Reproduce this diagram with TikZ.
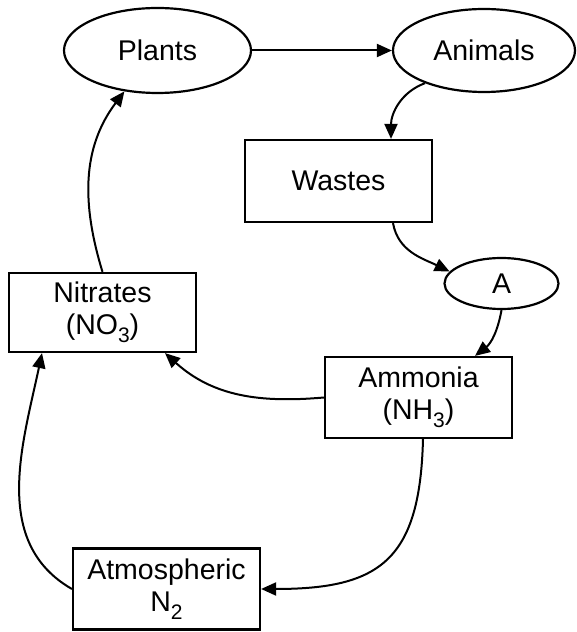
\documentclass[tikz,border=0pt]{standalone}
\usepackage{fontspec}
\setmainfont{Liberation Sans}
\usetikzlibrary{arrows.meta,shapes.geometric}
\newcommand\lowsub[1]{\raisebox{-8pt}{\fontsize{21}{21}\selectfont #1}}
\begin{document}
\begin{tikzpicture}[x=1pt,y=1pt,
  every node/.style={font=\fontsize{28.5}{32}\selectfont, line width=2.2pt, draw=black, inner sep=0pt, align=center},
  oval/.style={ellipse},
  box/.style={rectangle},
  link/.style={line width=2pt, -{Triangle[length=15pt,width=13pt]}}]
\useasboundingbox (0,0) rectangle (576,632);
\node[oval, minimum width=187pt, minimum height=85pt] (pla) at (157.5,581.5) {Plants};
\node[oval, minimum width=182pt, minimum height=83pt] (ani) at (484,581.5) {Animals};
\node[box, minimum width=187pt, minimum height=82pt] (wst) at (338.5,451) {Wastes};
\node[oval, minimum width=114pt, minimum height=51pt] (A) at (501.5,348.5) {A};
\node[box, minimum width=187pt, minimum height=79pt] (nit) at (102.5,319.5) {Nitrates\\(NO\lowsub{3})};
\node[box, minimum width=187pt, minimum height=81pt] (amm) at (418.5,234.5) {Ammonia\\(NH\lowsub{3})};
\node[box, minimum width=187pt, minimum height=81pt] (atm) at (166.5,43) {Atmospheric\\N\lowsub{2}};
\draw[link] (pla.east) -- (ani.west);
\draw[link] (ani.209) to[out=200,in=90] ([xshift=52.5pt]wst.north);
\draw[link] ([xshift=54.5pt]wst.south) to[out=-80,in=154] (A.167);
\draw[link] (A.south) to[out=-100,in=38] ([xshift=56.5pt]amm.north);
\draw[link] (amm.west) to[out=185,in=-42] ([xshift=62.5pt]nit.south);
\draw[link] (atm.west) to[out=150,in=-102] ([xshift=-60.5pt]nit.south);
\draw[link] (nit.north) to[out=107,in=233] (pla.231);
\draw[link] ([xshift=4.5pt]amm.south) .. controls +(-3,-121) and +(119,0) .. (atm.east);
\end{tikzpicture}
\end{document}
